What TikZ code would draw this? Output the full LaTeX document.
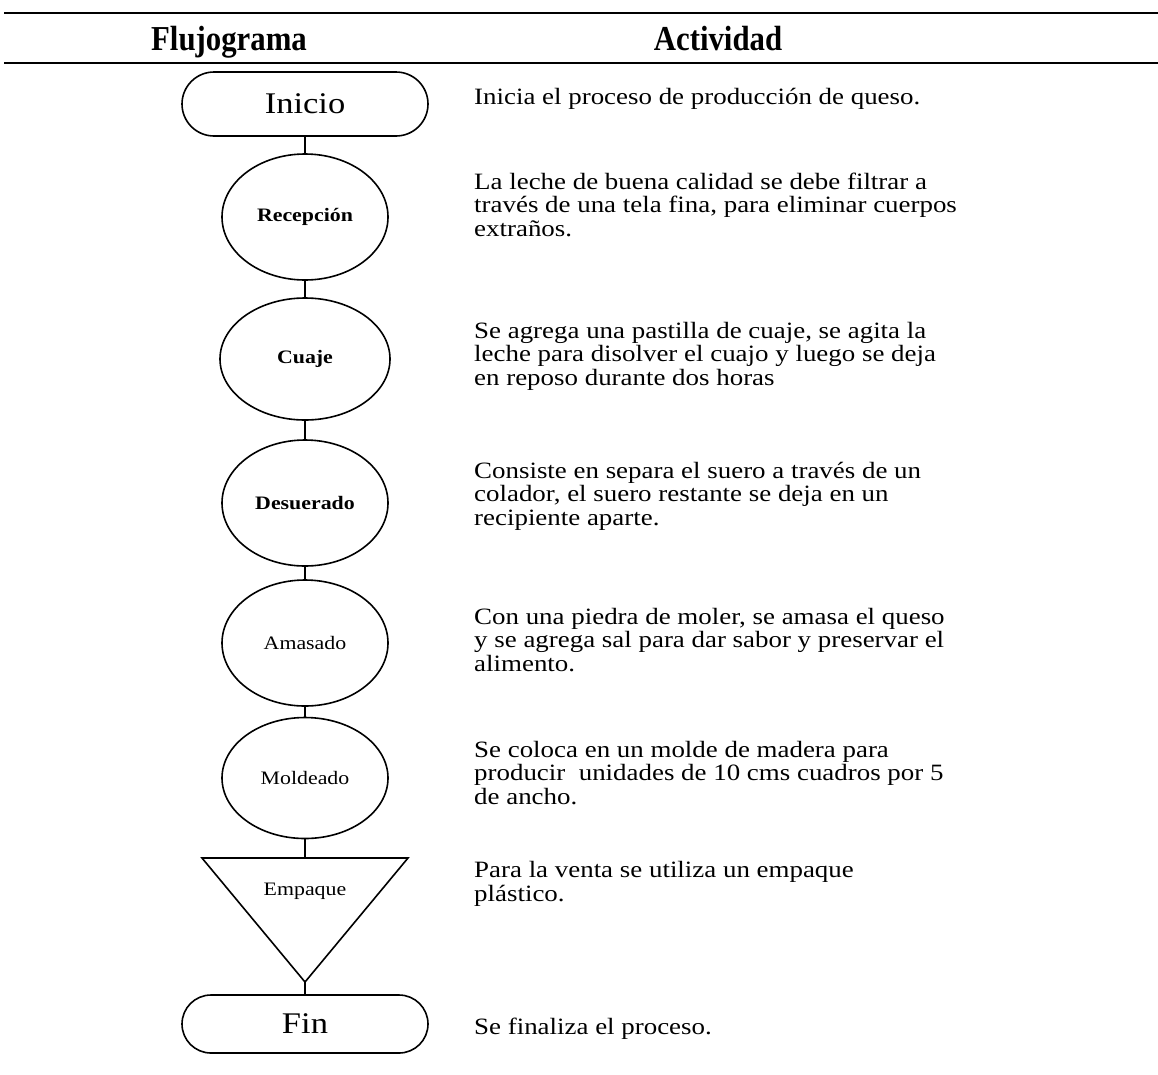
\documentclass[tikz,border=0pt]{standalone}
\usepackage{fontspec}
\setmainfont{Liberation Serif}[FakeStretch=1.15]
\newfontfamily\hdrfont{Liberation Serif}[FakeStretch=0.88]
\usetikzlibrary{shapes.geometric,shapes.misc}
\begin{document}
\begin{tikzpicture}[x=1pt,y=-1pt,
  term/.style={rounded rectangle, draw, line width=1.6pt, minimum width=246pt, minimum height=64pt, inner sep=0pt, font=\fontsize{30}{30}\selectfont},
  proc/.style={ellipse, draw, line width=1.6pt, minimum width=166pt, minimum height=126pt, inner sep=0pt},
  lblb/.style={font=\fontsize{19}{19}\selectfont\bfseries},
  lblr/.style={font=\fontsize{19}{19}\selectfont},
  desc/.style={anchor=base west, align=left, inner sep=0pt, font=\fontsize{23.4}{23.5}\selectfont},
  hdr/.style={anchor=base, font=\hdrfont\bfseries\fontsize{35}{35}\selectfont, inner sep=0pt},
  conn/.style={line width=1.6pt},
  rule/.style={line width=1.5pt}]
\useasboundingbox (0,0) rectangle (1158,1074);
% header
\coordinate (tl) at (4,13); \coordinate (tr) at (1158,13);
\coordinate (bl) at (4,63); \coordinate (br) at (1158,63);
\draw[rule] (tl) -- (tr);
\draw[rule] (bl) -- (br);
\node[hdr] (h1) at (229,50) {Flujograma};
\node[hdr] (h2) at (718,50) {Actividad};
% flow
\node[term] (inicio) at (305,104) {Inicio};
\node[proc, lblb] (recep) at (305,217) {Recepción};
\node[proc, lblb, minimum height=122pt, minimum width=170pt] (cuaje) at (305,359) {Cuaje};
\node[proc, lblb] (desu) at (305,503) {Desuerado};
\node[proc, lblr] (amas) at (305,643) {Amasado};
\node[proc, lblr, minimum height=121pt] (mold) at (305,778) {Moldeado};
\coordinate (tA) at (202,858);
\coordinate (tB) at (408,858);
\coordinate (tT) at (305,858);
\coordinate (tC) at (305,982);
\draw[conn, line join=miter] (tA) -- (tB) -- (tC) -- cycle;
\node[lblr] (emp) at (305,891) {Empaque};
\node[term, minimum height=58pt] (fin) at (305,1024) {Fin};
\draw[conn] (inicio) -- (recep);
\draw[conn] (recep) -- (cuaje);
\draw[conn] (cuaje) -- (desu);
\draw[conn] (desu) -- (amas);
\draw[conn] (amas) -- (mold);
\draw[conn] (mold) -- (tT);
\draw[conn] (tC) -- (fin);
% descriptions (anchor = baseline of last line)
\node[desc] (d1) at (474,104) {Inicia el proceso de producción de queso.};
\node[desc] (d2) at (474,236) {La leche de buena calidad se debe filtrar a\\través de una tela fina, para eliminar cuerpos\\extraños.};
\node[desc] (d3) at (474,385) {Se agrega una pastilla de cuaje, se agita la\\leche para disolver el cuajo y luego se deja\\en reposo durante dos horas};
\node[desc] (d4) at (474,525) {Consiste en separa el suero a través de un\\colador, el suero restante se deja en un\\recipiente aparte.};
\node[desc] (d5) at (474,671) {Con una piedra de moler, se amasa el queso\\y se agrega sal para dar sabor y preservar el\\alimento.};
\node[desc] (d6) at (474,804) {Se coloca en un molde de madera para\\producir\ \ unidades de 10 cms cuadros por 5\\de ancho.};
\node[desc] (d7) at (474,901) {Para la venta se utiliza un empaque\\plástico.};
\node[desc] (d8) at (474,1034) {Se finaliza el proceso.};
\end{tikzpicture}
\end{document}
